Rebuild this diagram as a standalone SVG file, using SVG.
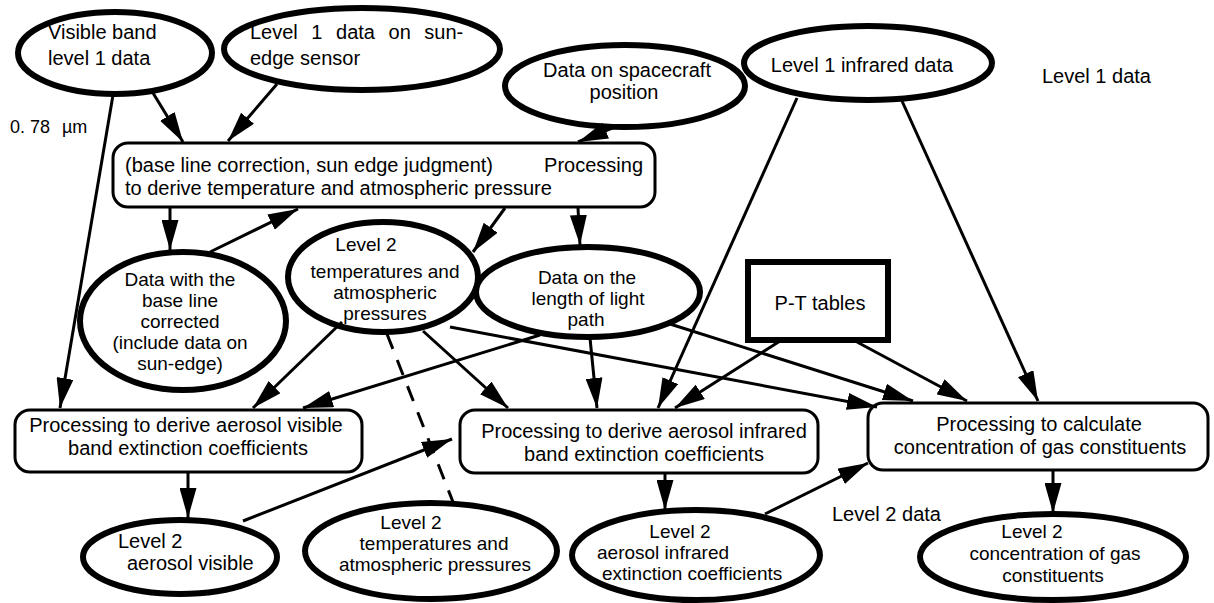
<svg xmlns="http://www.w3.org/2000/svg" width="1214" height="603" viewBox="0 0 1214 603">
<style>
.ell{fill:#fff;stroke:#000;stroke-width:6}
.box{fill:#fff;stroke:#000;stroke-width:3}
.pt{fill:#fff;stroke:#000;stroke-width:6}
.c{stroke:#000;stroke-width:3;fill:none;marker-end:url(#ah)}
.d{stroke:#000;stroke-width:3;fill:none;stroke-dasharray:16 12}
text{font-family:"Liberation Sans",Arial,Helvetica,sans-serif;font-size:20px;fill:#000}
.m{text-anchor:middle}
.s{font-size:19px}
</style>
<defs>
<marker id="ah" viewBox="0 0 30 17" markerWidth="30" markerHeight="17" refX="30" refY="8.5" orient="auto" markerUnits="userSpaceOnUse">
<path d="M0,0 L30,8.5 L0,17 z" fill="#000"/>
</marker>
</defs>
<rect width="1214" height="603" fill="#fff"/>

<g id="n-visible"><ellipse class="ell" cx="115" cy="53" rx="97" ry="41"/><text x="48" y="39">Visible band</text><text x="48" y="65">level 1 data</text></g>
<g id="n-sunedge"><ellipse class="ell" cx="362" cy="49" rx="138" ry="41"/><text x="250" y="39" word-spacing="8">Level 1 data on sun-</text><text x="250" y="65">edge sensor</text></g>
<g id="n-spacecraft"><ellipse class="ell" cx="625" cy="86" rx="120" ry="41"/><text class="m" x="627" y="77">Data on spacecraft</text><text class="m" x="624" y="99">position</text></g>
<g id="n-ir1"><ellipse class="ell" cx="868" cy="63" rx="124" ry="37"/><text class="m" x="862" y="72">Level 1 infrared data</text></g>
<g id="n-proc1"><rect class="box" x="113" y="143" width="542" height="64" rx="15"/><text x="125" y="172">(base line correction, sun edge judgment)</text><text x="643" y="172" text-anchor="end">Processing</text><text x="125" y="195">to derive temperature and atmospheric pressure</text></g>
<g id="n-baseline"><ellipse class="ell" cx="183" cy="321" rx="103" ry="69"/><text class="m s" x="180" y="286">Data with the</text><text class="m s" x="180" y="307">base line</text><text class="m s" x="180" y="328">corrected</text><text class="m s" x="180" y="349">(include data on</text><text class="m s" x="180" y="370">sun-edge)</text></g>
<g id="n-l2tp"><ellipse class="ell" cx="383" cy="277" rx="95" ry="55"/><text class="m s" x="366" y="251">Level 2</text><text class="m s" x="385" y="278">temperatures and</text><text class="m s" x="385" y="299">atmospheric</text><text class="m s" x="385" y="320">pressures</text></g>
<g id="n-path"><ellipse class="ell" cx="588" cy="292" rx="112" ry="45"/><text class="m s" x="587" y="284">Data on the</text><text class="m s" x="588" y="305">length of light</text><text class="m s" x="586" y="326">path</text></g>
<g id="n-pt"><rect class="pt" x="748" y="262" width="140" height="78"/><text class="m" x="820" y="310">P-T tables</text></g>
<g id="n-proc2"><rect class="box" x="15" y="410" width="347" height="62" rx="15"/><text class="m" x="186" y="432">Processing to derive aerosol visible</text><text class="m" x="188" y="455">band extinction coefficients</text></g>
<g id="n-proc3"><rect class="box" x="460" y="410" width="358" height="63" rx="15"/><text class="m" x="644" y="438">Processing to derive aerosol infrared</text><text class="m" x="644" y="461">band extinction coefficients</text></g>
<g id="n-proc4"><rect class="box" x="868" y="403" width="340" height="67" rx="15"/><text class="m" x="1039" y="431">Processing to calculate</text><text class="m" x="1040" y="454">concentration of gas constituents</text></g>
<g id="n-l2vis"><ellipse class="ell" cx="180" cy="557" rx="97" ry="37"/><text x="118" y="548">Level 2</text><text x="127" y="570">aerosol visible</text></g>
<g id="n-l2tp2"><ellipse class="ell" cx="431" cy="551" rx="126" ry="48"/><text class="m s" x="411" y="529">Level 2</text><text class="m s" x="434" y="550">temperatures and</text><text class="m s" x="435" y="571">atmospheric pressures</text></g>
<g id="n-l2ir"><ellipse class="ell" cx="696" cy="555" rx="124" ry="45"/><text class="m s" x="680" y="538">Level 2</text><text class="s" x="597" y="559">aerosol infrared</text><text class="s" x="602" y="580">extinction coefficients</text></g>
<g id="n-l2gas"><ellipse class="ell" cx="1053" cy="557" rx="133" ry="43"/><text class="m s" x="1032" y="538">Level 2</text><text class="m s" x="1055" y="560">concentration of gas</text><text class="m s" x="1053" y="582">constituents</text></g>

<g id="labels">
<text x="1042" y="83">Level 1 data</text>
<text x="832" y="521">Level 2 data</text>
<text x="10" y="133" style="font-size:18px">0. 78</text>
<text x="62" y="133" style="font-size:18px">µm</text>
</g>

<g id="connectors">
<path class="c" d="M153,93 L183,142"/>
<path class="c" d="M277,84 L228,141"/>
<path class="c" d="M617,126 L578,142"/>
<path class="c" d="M113,95 L60,408"/>
<path class="c" d="M170,207 L170,250"/>
<path class="c" d="M210,252 L298,209"/>
<path class="c" d="M505,208 L473,252"/>
<path class="c" d="M578,208 L580,245"/>
<path class="c" d="M797,98 L658,408"/>
<path class="c" d="M902,101 L1038,401"/>
<path class="c" d="M342,322 L253,408"/>
<path class="c" d="M540,335 L303,408"/>
<path class="c" d="M423,331 L508,408"/>
<path class="c" d="M590,338 L597,408"/>
<path class="c" d="M780,341 L675,408"/>
<path class="c" d="M450,327 L877,407"/>
<path class="c" d="M670,324 L913,401"/>
<path class="c" d="M857,342 L967,401"/>
<path class="c" d="M188,473 L188,518"/>
<path class="c" d="M243,521 L452,439"/>
<path class="d" d="M387,334 L453,502"/>
<path class="c" d="M665,474 L665,510"/>
<path class="c" d="M765,514 L868,463"/>
<path class="c" d="M1053,471 L1053,513"/>
</g>
</svg>
